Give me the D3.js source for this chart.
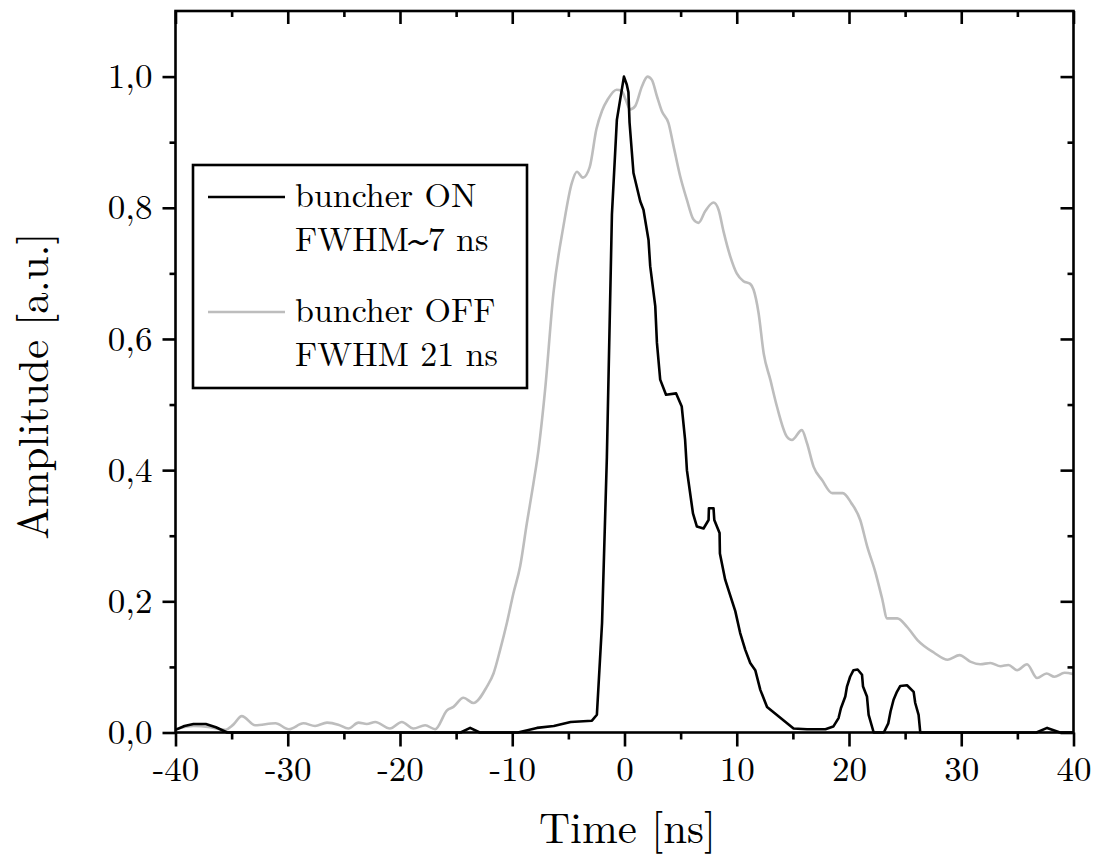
<!DOCTYPE html>
<html>
<head>
<meta charset="utf-8">
<script src="https://cdn.jsdelivr.net/npm/d3@7"></script>
<style>
  body { margin: 0; background: #fff; }
</style>
</head>
<body>
<div id="chart"></div>
<script>
// Time [ns] / amplitude pairs
const buncherOn = [
  [-40, 0.004], [-39.2, 0.010], [-38.4, 0.013], [-37.3, 0.013], [-36.4, 0.008], [-35.4, 0.0],
  [-14.6, 0.0], [-13.75, 0.007], [-12.9, 0.0], [-9.5, 0.0], [-7.8, 0.007], [-6.3, 0.010],
  [-4.8, 0.016], [-2.9, 0.018], [-2.46, 0.027], [-2.0, 0.167], [-1.57, 0.42], [-1.45, 0.52],
  [-1.12, 0.79], [-0.68, 0.934], [-0.05, 1.0], [0.2, 0.988], [0.35, 0.976], [0.45, 0.93],
  [0.8, 0.853], [1.4, 0.81], [1.69, 0.797], [2.14, 0.751], [2.29, 0.711], [2.74, 0.65],
  [2.89, 0.594], [3.18, 0.538], [3.7, 0.515], [4.6, 0.517], [5.1, 0.497], [5.4, 0.446],
  [5.56, 0.40], [6.1, 0.334], [6.45, 0.314], [7.04, 0.311], [7.49, 0.324], [7.52, 0.342],
  [7.93, 0.342], [8.0, 0.324], [8.47, 0.304], [8.5, 0.273], [8.97, 0.233], [9.36, 0.212],
  [9.87, 0.185], [10.3, 0.152], [10.76, 0.126], [11.2, 0.106], [11.65, 0.095], [12.1, 0.065],
  [12.7, 0.039], [15.06, 0.006], [16.26, 0.005], [17.9, 0.005], [18.6, 0.009], [19.07, 0.022],
  [19.28, 0.037], [19.67, 0.055], [19.82, 0.07], [20.1, 0.085], [20.4, 0.095], [20.77, 0.096],
  [21.16, 0.088], [21.25, 0.07], [21.6, 0.055], [21.75, 0.027], [22.2, 0.0], [23.1, 0.0],
  [23.5, 0.014], [23.7, 0.032], [23.97, 0.05], [24.27, 0.062], [24.57, 0.071], [25.17, 0.072],
  [25.76, 0.062], [25.9, 0.045], [26.2, 0.027], [26.35, 0.0], [36.7, 0.0], [37.65, 0.007],
  [38.8, 0.0], [40, 0.0]
];

const buncherOff = [
  [-40, 0.005], [-38.4, 0.01], [-36.9, 0.008], [-35.6, 0.004], [-34.85, 0.012], [-34.1, 0.025],
  [-32.9, 0.011], [-31.1, 0.014], [-29.9, 0.005], [-28.6, 0.014], [-27.57, 0.01], [-26.5, 0.015],
  [-25.5, 0.012], [-24.6, 0.006], [-23.7, 0.015], [-22.96, 0.013], [-22.2, 0.016], [-20.9, 0.006],
  [-19.84, 0.016], [-18.8, 0.006], [-17.76, 0.011], [-16.87, 0.005], [-15.8, 0.034], [-15.24, 0.039],
  [-14.35, 0.053], [-13.46, 0.045], [-12.26, 0.07], [-11.67, 0.09], [-11.08, 0.126], [-10.48, 0.167],
  [-9.9, 0.212], [-9.3, 0.253], [-8.7, 0.319], [-8.11, 0.38], [-7.66, 0.431], [-7.07, 0.523],
  [-6.33, 0.67], [-5.44, 0.772], [-4.69, 0.838], [-4.24, 0.855], [-3.7, 0.846], [-3.1, 0.862],
  [-2.5, 0.92], [-2.0, 0.948], [-1.5, 0.965], [-0.7, 0.98], [-0.25, 0.978], [0.1, 0.965],
  [0.5, 0.95], [0.95, 0.955], [1.55, 0.985], [2.05, 1.0], [2.44, 0.995], [2.89, 0.97],
  [3.33, 0.947], [3.92, 0.929], [4.37, 0.894], [4.96, 0.848], [5.56, 0.812], [6.15, 0.782],
  [6.6, 0.777], [7.2, 0.795], [7.93, 0.808], [8.38, 0.797], [8.82, 0.764], [9.42, 0.726],
  [10.0, 0.70], [10.6, 0.688], [11.2, 0.684], [11.5, 0.675], [11.94, 0.64], [12.4, 0.578],
  [12.99, 0.538], [13.58, 0.497], [14.47, 0.451], [14.92, 0.446], [15.8, 0.461], [16.26, 0.441],
  [16.85, 0.405], [17.6, 0.385], [18.5, 0.365], [19.45, 0.365], [20.2, 0.35], [21.0, 0.324],
  [21.6, 0.285], [22.34, 0.245], [22.94, 0.205], [23.4, 0.174], [24.3, 0.174], [25.17, 0.161],
  [26.1, 0.141], [27.55, 0.122], [28.8, 0.111], [29.85, 0.118], [30.8, 0.108], [31.7, 0.104],
  [32.6, 0.106], [33.5, 0.101], [34.2, 0.103], [34.97, 0.095], [35.86, 0.104], [36.75, 0.083],
  [37.6, 0.09], [38.3, 0.085], [39.2, 0.091], [40, 0.089]
];

const xMajor = [-40, -30, -20, -10, 0, 10, 20, 30, 40];
const xMinor = [-35, -25, -15, -5, 5, 15, 25, 35];
const yMajor = [0, 0.2, 0.4, 0.6, 0.8, 1.0];
const yMinor = [0.1, 0.3, 0.5, 0.7, 0.9];

// each legend line is split in pieces; the tilde is drawn heavier, as in the original
const legendLabels = [
  [[["buncher ON", false]], [["FWHM", false], ["~", true], ["7 ns", false]]],
  [[["buncher OFF", false]], [["FWHM 21 ns", false]]]
];
const seriesColors = ["#000000", "#bdbdbd"];

const FONT = "'Latin Modern Roman', 'Liberation Serif', serif";

// Layout
const W = 1097, H = 854;
const margin = {top: 11, right: 23.5, bottom: 121.5, left: 175.5},
    width = W - margin.left - margin.right,
    height = H - margin.top - margin.bottom;

const svg = d3.select("#chart")
  .append("svg")
    .attr("width", W)
    .attr("height", H)
    .attr("font-family", FONT)
  .append("g")
    .attr("transform", `translate(${margin.left},${margin.top})`);

const x = d3.scaleLinear().domain([-40, 40]).range([0, width]);
const y = d3.scaleLinear().domain([0, 1.1]).range([height, 0]);

// comma decimals, plain hyphen for negatives
const loc = d3.formatLocale({decimal: ",", thousands: ".", grouping: [3], currency: ["", ""], minus: "-"});
const fmtX = loc.format("d");
const fmtY = loc.format(".1f");

// Curves
const line = d3.line().x(d => x(d[0])).y(d => y(d[1]));

svg.append("path")
    .datum(buncherOff)
    .attr("fill", "none")
    .attr("stroke", seriesColors[1])
    .attr("stroke-width", 2.6)
    .attr("stroke-linejoin", "round")
    .attr("d", line.curve(d3.curveMonotoneX));

svg.append("path")
    .datum(buncherOn)
    .attr("fill", "none")
    .attr("stroke", seriesColors[0])
    .attr("stroke-width", 2.6)
    .attr("stroke-linejoin", "round")
    .attr("d", line.curve(d3.curveLinear));

// Axes: outer ticks on bottom/left, inward ticks on top/right
function styleAxis(g) {
  g.attr("font-family", FONT);
  g.select(".domain").remove();
  g.selectAll(".tick line").attr("stroke", "#000").attr("stroke-width", 2.6);
}

svg.append("g")
    .attr("transform", `translate(0,${height})`)
    .call(d3.axisBottom(x).tickValues(xMajor).tickSize(14).tickPadding(10).tickFormat(fmtX))
    .call(styleAxis)
    .call(g => g.selectAll("text").attr("font-size", 35).attr("fill", "#000"));
svg.append("g")
    .attr("transform", `translate(0,${height})`)
    .call(d3.axisBottom(x).tickValues(xMinor).tickSize(7).tickFormat(""))
    .call(styleAxis);

svg.append("g")
    .call(d3.axisLeft(y).tickValues(yMajor).tickSize(13).tickPadding(10).tickFormat(fmtY))
    .call(styleAxis)
    .call(g => g.selectAll("text").attr("font-size", 35).attr("fill", "#000"));
svg.append("g")
    .call(d3.axisLeft(y).tickValues(yMinor).tickSize(6).tickFormat(""))
    .call(styleAxis);

svg.append("g")
    .call(d3.axisBottom(x).tickValues(xMajor).tickSize(13).tickFormat(""))
    .call(styleAxis);
svg.append("g")
    .call(d3.axisBottom(x).tickValues(xMinor).tickSize(6).tickFormat(""))
    .call(styleAxis);

svg.append("g")
    .attr("transform", `translate(${width},0)`)
    .call(d3.axisLeft(y).tickValues(yMajor).tickSize(13).tickFormat(""))
    .call(styleAxis);
svg.append("g")
    .attr("transform", `translate(${width},0)`)
    .call(d3.axisLeft(y).tickValues(yMinor).tickSize(6).tickFormat(""))
    .call(styleAxis);

// Frame
svg.append("rect")
    .attr("width", width)
    .attr("height", height)
    .attr("fill", "none")
    .attr("stroke", "#000")
    .attr("stroke-width", 2.6);

// Axis titles
svg.append("text")
    .attr("text-anchor", "middle")
    .attr("x", width / 2 + 3)
    .attr("y", height + 110)
    .attr("font-size", 43)
    .text("Time [ns]");

svg.append("text")
    .attr("text-anchor", "middle")
    .attr("transform", "rotate(-90)")
    .attr("x", -(386 - margin.top))
    .attr("y", -margin.left + 48)
    .attr("font-size", 43)
    .text("Amplitude [a.u.]");

// Legend
const legend = svg.append("g")
    .attr("transform", `translate(${193 - margin.left},${165 - margin.top})`);

legend.append("rect")
    .attr("width", 334)
    .attr("height", 223)
    .attr("fill", "#fff")
    .attr("stroke", "#000")
    .attr("stroke-width", 2.6);

legendLabels.forEach((lines, i) => {
  const top = 32 + i * 115;
  legend.append("line")
      .attr("x1", 15).attr("x2", 92)
      .attr("y1", top).attr("y2", top)
      .attr("stroke", seriesColors[i])
      .attr("stroke-width", 2.6);
  lines.forEach((parts, j) => {
    const txt = legend.append("text")
        .attr("x", 102)
        .attr("y", top + 10 + j * 44)
        .attr("font-size", 34);
    parts.forEach(([s, heavy]) => {
      txt.append("tspan")
          .attr("font-weight", heavy ? "bold" : null)
          .attr("stroke", heavy ? "#000" : null)
          .attr("stroke-width", heavy ? 1.2 : null)
          .text(s);
    });
  });
});
</script>
</body>
</html>
